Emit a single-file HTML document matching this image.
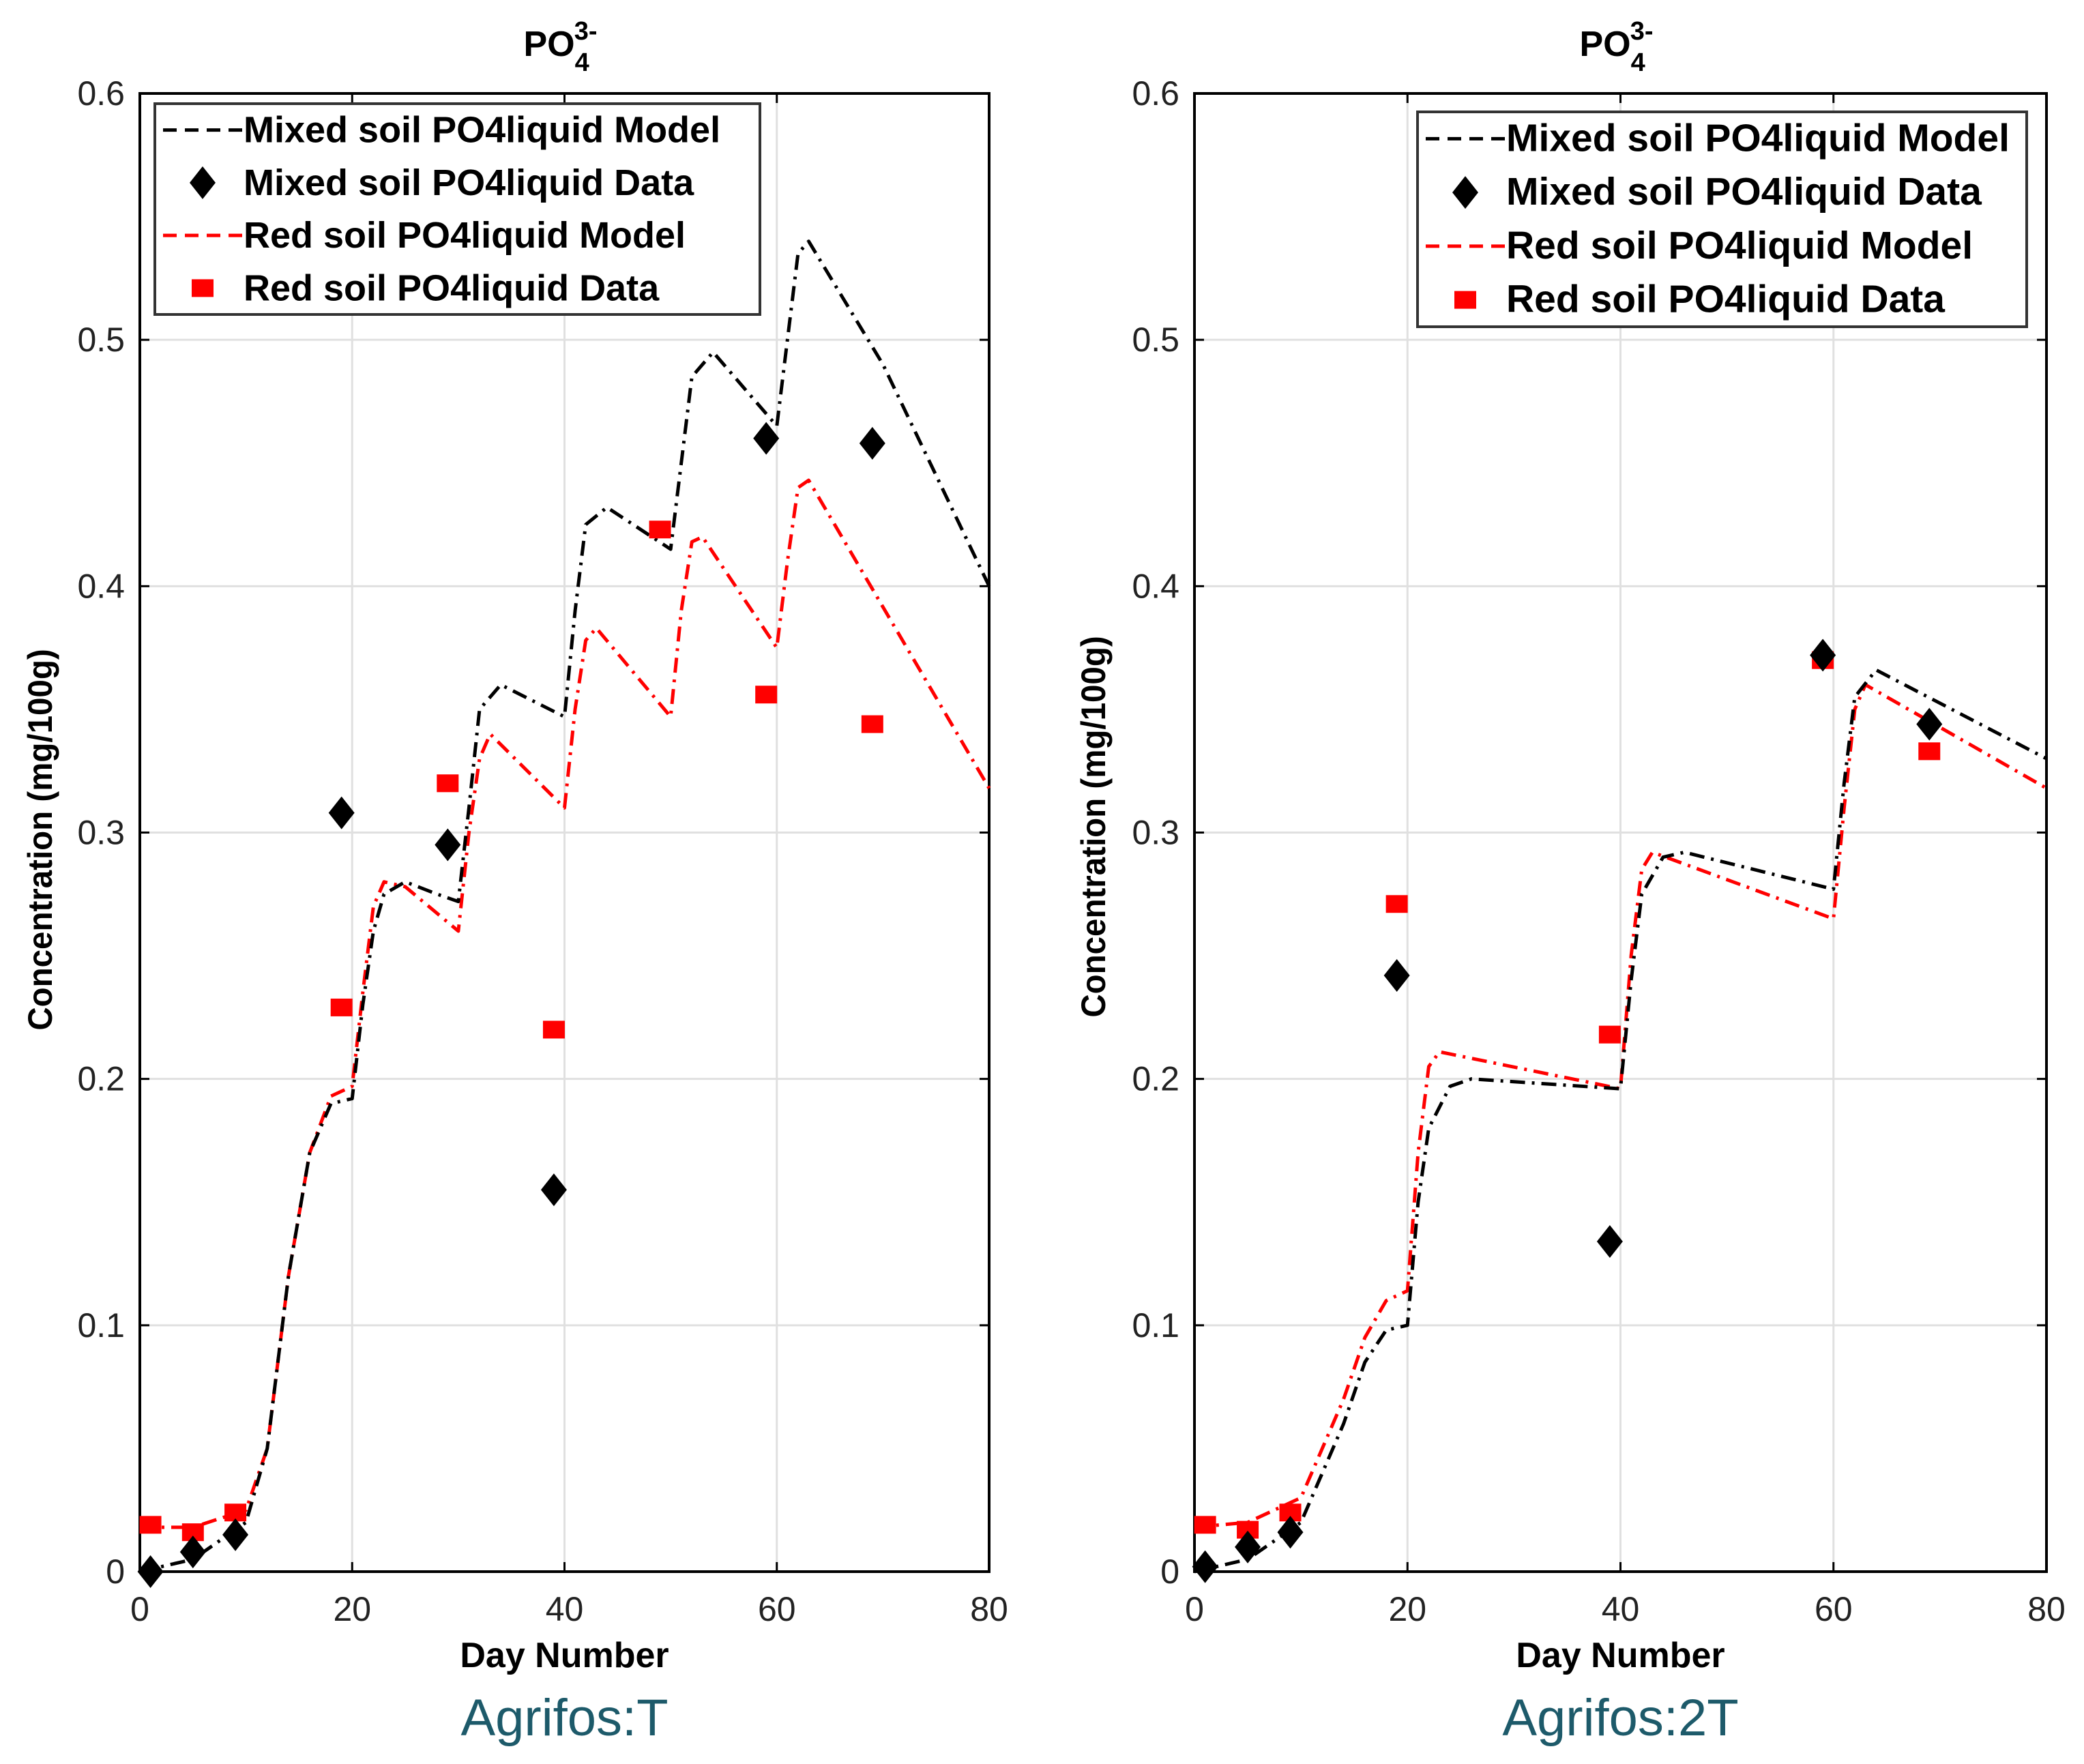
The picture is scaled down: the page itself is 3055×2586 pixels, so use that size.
<!DOCTYPE html>
<html><head><meta charset="utf-8"><style>
body{margin:0;background:#fff}
svg{display:block;font-family:"Liberation Sans",sans-serif}
</style></head><body>
<svg id="s" width="3055" height="2586" viewBox="0 0 3055 2586"></svg>
<script>
const days = [0,5,10,12,14,16,18,20,21,22,23,25,28,30,31,32,34,40,41,42,44,50,51,52,54,60,61,62,63,70,80];
const leftMixedModel = [0,0.005,0.02,0.05,0.12,0.17,0.19,0.192,0.23,0.26,0.275,0.28,0.275,0.272,0.31,0.35,0.36,0.347,0.39,0.425,0.432,0.415,0.45,0.485,0.495,0.465,0.5,0.535,0.54,0.49,0.4];
const leftRedDays = [0,5,10,12,14,16,18,20,21,22,23,25,30,31,32,33,40,41,42,43,50,51,52,53,60,61,62,63,80];
const leftRedModel = [0.018,0.018,0.025,0.05,0.12,0.17,0.193,0.197,0.235,0.27,0.28,0.278,0.26,0.3,0.33,0.34,0.31,0.35,0.378,0.383,0.347,0.39,0.418,0.42,0.375,0.41,0.44,0.443,0.318];
const leftMixedDataDays = [1,5,9,19,29,39,59,69];
const leftMixedData = [0,0.008,0.015,0.308,0.295,0.155,0.46,0.458];
const leftRedDataDays = [1,5,9,19,29,39,49,59,69];
const leftRedData = [0.019,0.016,0.024,0.229,0.32,0.22,0.423,0.356,0.344];
const rightMixedDays = [0,5,10,12,14,16,18,20,21,22,24,26,40,41,42,44,46,60,61,62,64,80];
const rightMixedModel = [0,0.005,0.02,0.04,0.06,0.085,0.098,0.1,0.15,0.18,0.197,0.2,0.196,0.24,0.275,0.29,0.292,0.277,0.32,0.355,0.366,0.33];
const rightRedDays = [0,5,10,12,14,16,18,20,21,22,23,40,41,42,43,60,61,62,63,80];
const rightRedModel = [0.018,0.02,0.03,0.05,0.07,0.095,0.11,0.114,0.17,0.205,0.211,0.196,0.25,0.285,0.292,0.265,0.31,0.35,0.36,0.318];
const rightMixedDataDays = [1,5,9,19,39,59,69];
const rightMixedData = [0.002,0.01,0.016,0.242,0.134,0.372,0.344];
const rightRedDataDays = [1,5,9,19,39,59,69];
const rightRedData = [0.019,0.017,0.024,0.271,0.218,0.37,0.333];
const xTicks = [0,20,40,60,80];
const yTicks = [0,0.1,0.2,0.3,0.4,0.5,0.6];
const legendLabels = ["Mixed soil PO4liquid Model","Mixed soil PO4liquid Data","Red soil PO4liquid Model","Red soil PO4liquid Data"];

const NS="http://www.w3.org/2000/svg";
const svg=document.getElementById('s');
function mk(t,a,p){const e=document.createElementNS(NS,t);for(const k in a)e.setAttribute(k,a[k]);(p||svg).appendChild(e);return e;}

function chart(o){
  const g=mk('g',{});
  
  
  const X=d=>o.x0+(d/80)*(o.x1-o.x0);
  const Y=v=>o.y0+(v/0.6)*(o.y1-o.y0);
  xTicks.forEach(t=>{
    if(t>0&&t<80){const l=mk('line',{x1:X(t),x2:X(t),y1:o.y0,y2:o.y1,stroke:'#e0e0e0','stroke-width':3},g);
    }
    const tx=mk('text',{x:X(t),y:o.y0+72,'font-size':50,'text-anchor':'middle',fill:'#222'},g);tx.textContent=t;
    
    mk('line',{x1:X(t),x2:X(t),y1:o.y0,y2:o.y0-14,stroke:'#000','stroke-width':3},g);
    mk('line',{x1:X(t),x2:X(t),y1:o.y1,y2:o.y1+14,stroke:'#000','stroke-width':3},g);
  });
  yTicks.forEach(t=>{
    if(t>0&&t<0.6){const l=mk('line',{x1:o.x0,x2:o.x1,y1:Y(t),y2:Y(t),stroke:'#e0e0e0','stroke-width':3},g);
    }
    const tx=mk('text',{x:o.x0-22,y:Y(t)+17,'font-size':50,'text-anchor':'end',fill:'#222'},g);tx.textContent=t;
    
    mk('line',{x1:o.x0,x2:o.x0+14,y1:Y(t),y2:Y(t),stroke:'#000','stroke-width':3},g);
    mk('line',{x1:o.x1,x2:o.x1-14,y1:Y(t),y2:Y(t),stroke:'#000','stroke-width':3},g);
  });
  const box=mk('rect',{x:o.x0,y:o.y1,width:o.x1-o.x0,height:o.y0-o.y1,fill:'none',stroke:'#000','stroke-width':4},g);
  
  function line(ds,vs,col,nm){
    const p=mk('polyline',{points:ds.map((d,i)=>X(d)+','+Y(vs[i])).join(' '),fill:'none',stroke:col,'stroke-width':5,'stroke-dasharray':'22 10 4 10','stroke-linejoin':'round'},g);
    
  }
  line(o.rmd,o.rm,'#ff0000','red-soil-model-line');
  line(o.mmd,o.mm,'#000','mixed-soil-model-line');
  o.rdd.forEach((d,i)=>{const r=mk('rect',{x:X(d)-16,y:Y(o.rd[i])-13,width:32,height:26,fill:'#ff0000'},g);
    });
  o.mdd.forEach((d,i)=>{const cx=X(d),cy=Y(o.md[i]);const p=mk('polygon',{points:`${cx},${cy-24} ${cx+19},${cy} ${cx},${cy+24} ${cx-19},${cy}`,fill:'#000'},g);
    });
  const cx=(o.x0+o.x1)/2;
  const tt=mk('text',{x:cx-60,y:82,'font-size':52,'font-weight':'bold'},g);
  
  tt.innerHTML='PO<tspan dy="22" font-size="38">4</tspan><tspan dx="-22" dy="-46" font-size="38">3-</tspan>';
  const xl=mk('text',{x:cx,y:o.y0+140,'font-size':52,'font-weight':'bold','text-anchor':'middle'},g);xl.textContent='Day Number';
  
  const cap=mk('text',{x:cx,y:o.y0+240,'font-size':76,'text-anchor':'middle',fill:'#1d5a6a'},g);cap.textContent=o.caption;
  
  const yl=mk('text',{x:0,y:0,'font-size':50,'font-weight':'bold','text-anchor':'middle',transform:`translate(${o.ylx},${o.yly}) rotate(-90) scale(0.95,1)`},g);yl.textContent='Concentration (mg/100g)';
  
  const L=o.leg;
  const lg=mk('g',{},g);
  mk('rect',{x:L.x,y:L.y,width:L.w,height:L.h,fill:'#fff',stroke:'#333','stroke-width':4},lg);
  const rh=L.h/4;
  legendLabels.forEach((lab,i)=>{
    const ry=L.y+rh*(i+0.5);
    const e=mk('g',{},lg);
    const col=i<2?'#000':'#ff0000';
    const sx=L.x+12, ex=L.x+130, mx=L.x+70;
    if(i%2==0) mk('line',{x1:sx,x2:ex,y1:ry,y2:ry,stroke:col,'stroke-width':5,'stroke-dasharray':'20 12'},e);
    else if(i==1) mk('polygon',{points:`${mx},${ry-24} ${mx+19},${ry} ${mx},${ry+24} ${mx-19},${ry}`,fill:'#000'},e);
    else mk('rect',{x:mx-16,y:ry-13,width:32,height:26,fill:'#ff0000'},e);
    const t=mk('text',{x:L.x+130,y:ry+18,'font-size':L.fs,'font-weight':'bold'},e);t.textContent=lab;
  });
}
chart({name:'left-chart',x0:205,x1:1450,y0:2304,y1:137,caption:'Agrifos:T',ylx:76,yly:1231,
  mmd:days,mm:leftMixedModel,rmd:leftRedDays,rm:leftRedModel,mdd:leftMixedDataDays,md:leftMixedData,rdd:leftRedDataDays,rd:leftRedData,
  leg:{x:227,y:152,w:887,h:309,fs:54}});
chart({name:'right-chart',x0:1751,x1:3000,y0:2304,y1:137,caption:'Agrifos:2T',ylx:1620,yly:1212,
  mmd:rightMixedDays,mm:rightMixedModel,rmd:rightRedDays,rm:rightRedModel,mdd:rightMixedDataDays,md:rightMixedData,rdd:rightRedDataDays,rd:rightRedData,
  leg:{x:2078,y:164,w:893,h:315,fs:57}});
</script>
</body></html>
